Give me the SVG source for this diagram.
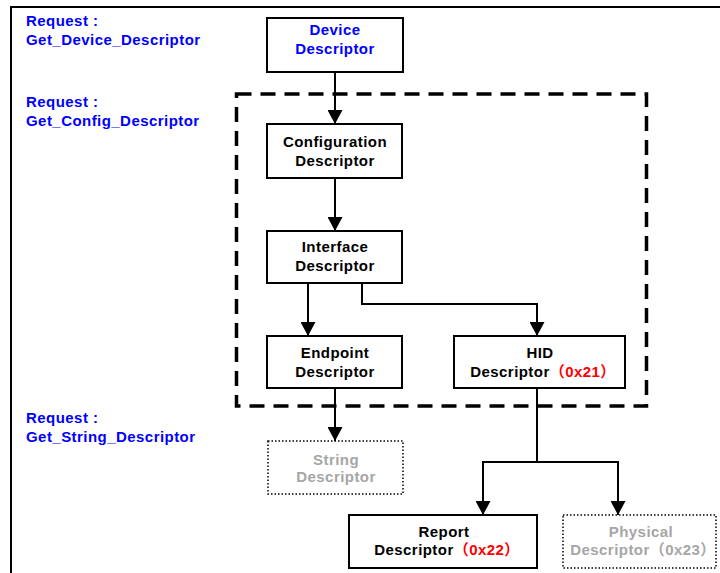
<svg xmlns="http://www.w3.org/2000/svg" width="720" height="573" viewBox="0 0 720 573">
<style>
text{font-family:"Liberation Sans","Noto Sans CJK SC",Arial,sans-serif;font-weight:bold;font-size:15px;letter-spacing:0.45px}
.req{fill:#0000ff}
.node{fill:#000;text-anchor:middle}
.gray{fill:#a6a6a6;text-anchor:middle}
.red{fill:#ff0000}
.box{fill:#fff;stroke:#000;stroke-width:2}
.dot{fill:#fff;stroke:#000;stroke-width:1.5;stroke-dasharray:1.5 2}
.conn{fill:none;stroke:#000;stroke-width:2}
</style>
<defs>
<marker id="arr" markerWidth="15" markerHeight="15" refX="14" refY="7.5" orient="auto" markerUnits="userSpaceOnUse">
<path d="M0,0 L14,7.5 L0,15 Z" fill="#000"/>
</marker>
</defs>
<rect width="720" height="573" fill="#fff"/>
<path d="M11,573 V7 H720" fill="none" stroke="#000" stroke-width="2"/>
<g id="labels">
<text class="req" x="26" y="26">Request :</text>
<text class="req" x="26" y="45">Get_Device_Descriptor</text>
<text class="req" x="26" y="107">Request :</text>
<text class="req" x="26" y="126">Get_Config_Descriptor</text>
<text class="req" x="26" y="423">Request :</text>
<text class="req" x="26" y="442">Get_String_Descriptor</text>
</g>
<rect id="config-group" x="236.5" y="94" width="410" height="312" fill="none" stroke="#000" stroke-width="3.5" stroke-dasharray="15 9"/>
<g id="connectors">
<path class="conn" d="M335,72 V124" marker-end="url(#arr)"/>
<path class="conn" d="M335,178 V231" marker-end="url(#arr)"/>
<path class="conn" d="M308,283 V336" marker-end="url(#arr)"/>
<path class="conn" d="M362,283 V304 H537 V336" marker-end="url(#arr)"/>
<path class="conn" d="M335,388 V441" marker-end="url(#arr)"/>
<path class="conn" d="M537,388 V462 H483 V515" marker-end="url(#arr)"/>
<path class="conn" d="M537,462 H618 V515" marker-end="url(#arr)"/>
</g>
<g id="device">
<rect class="box" x="267" y="18" width="136" height="54"/>
<text class="req" text-anchor="middle" x="335" y="35">Device</text>
<text class="req" text-anchor="middle" x="335" y="54">Descriptor</text>
</g>
<g id="configuration">
<rect class="box" x="267" y="124" width="135" height="54"/>
<text class="node" x="335" y="147">Configuration</text>
<text class="node" x="335" y="166">Descriptor</text>
</g>
<g id="interface">
<rect class="box" x="267" y="231" width="135" height="52"/>
<text class="node" x="335" y="252">Interface</text>
<text class="node" x="335" y="271">Descriptor</text>
</g>
<g id="endpoint">
<rect class="box" x="267" y="336" width="135" height="52"/>
<text class="node" x="335" y="358">Endpoint</text>
<text class="node" x="335" y="377">Descriptor</text>
</g>
<g id="hid">
<rect class="box" x="454" y="336" width="171" height="52"/>
<text class="node" x="540" y="358">HID</text>
<text class="node" x="543" y="377">Descriptor<tspan class="red">（0x21）</tspan></text>
</g>
<g id="string">
<rect class="dot" x="268" y="441" width="135" height="53"/>
<text class="gray" x="336" y="465">String</text>
<text class="gray" x="336" y="482">Descriptor</text>
</g>
<g id="report">
<rect class="box" x="349" y="515" width="188" height="53"/>
<text class="node" x="444" y="537">Report</text>
<text class="node" x="447" y="555">Descriptor<tspan class="red">（0x22）</tspan></text>
</g>
<g id="physical">
<rect class="dot" x="563" y="515" width="153" height="53"/>
<text class="gray" x="641" y="537">Physical</text>
<text class="gray" x="643" y="555">Descriptor（0x23）</text>
</g>
</svg>
